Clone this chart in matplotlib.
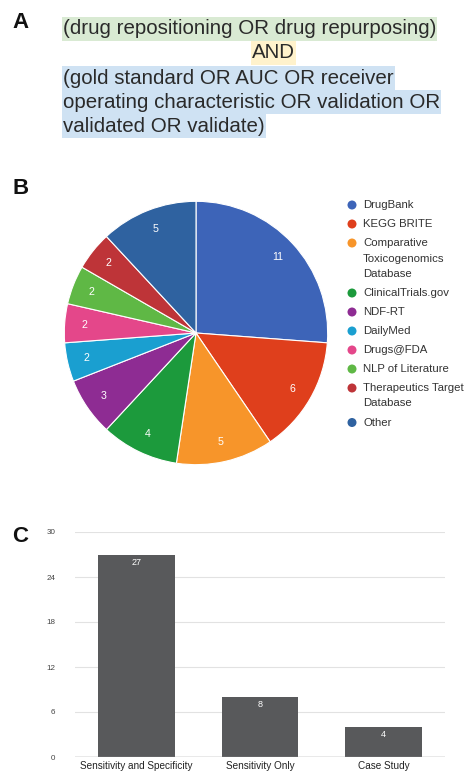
import numpy as np
import matplotlib
matplotlib.use("Agg")
import matplotlib.pyplot as plt
from matplotlib.patches import Rectangle

plt.rcParams['font.family'] = ['Liberation Sans', 'DejaVu Sans']

W, H = 471, 774

# panel A: search query
query_lines = ["(drug repositioning OR drug repurposing)",
               "AND",
               "(gold standard OR AUC OR receiver",
               "operating characteristic OR validation OR",
               "validated OR validate)"]
query_colors = ["#d9ead3", "#fff2cc", "#cfe2f3", "#cfe2f3", "#cfe2f3"]

# panel B: data sources
sources = ["DrugBank", "KEGG BRITE", "Comparative\nToxicogenomics\nDatabase",
           "ClinicalTrials.gov", "NDF-RT", "DailyMed", "Drugs@FDA",
           "NLP of Literature", "Therapeutics Target\nDatabase", "Other"]
source_counts = [11, 6, 5, 4, 3, 2, 2, 2, 2, 5]
source_colors = ["#3d64b8", "#df3f1c", "#f7952a", "#1c9a3c", "#8e2c93",
                 "#1a9fd0", "#e4478a", "#5fb845", "#be3438", "#2f62a0"]

# panel C: validation type
validation = ["Sensitivity and Specificity", "Sensitivity Only", "Case Study"]
validation_counts = [27, 8, 4]
bar_color = "#58595b"


def px_axes(fig, left, top, right, bottom):
    # axes from pixel box (top-left origin)
    return fig.add_axes([left / W, 1 - bottom / H, (right - left) / W, (bottom - top) / H])


fig = plt.figure(figsize=(W / 100, H / 100), dpi=100)
fig.patch.set_facecolor("white")

# overlay in pixel coordinates for text panel, letters and legend
ov = fig.add_axes([0, 0, 1, 1])
ov.set_xlim(0, W)
ov.set_ylim(H, 0)
ov.axis("off")

for letter, y in zip("ABC", [23, 189, 537]):
    ov.text(12, y, letter, fontsize=16, fontweight="bold", va="center", ha="left", color="#111111")

# query text with highlight bands
line_y = [29, 53, 78, 102, 126]
texts = []
for i, (s, y) in enumerate(zip(query_lines, line_y)):
    if s == "AND":
        t = ov.text(273, y, s, fontsize=14.8, ha="center", va="center", color="#2a2a2a", zorder=3)
    else:
        t = ov.text(63, y, s, fontsize=14.8, ha="left", va="center", color="#2a2a2a", zorder=3)
    texts.append(t)

fig.canvas.draw()
r = fig.canvas.get_renderer()
for t, y, c in zip(texts, line_y, query_colors):
    bb = t.get_window_extent(r)
    ov.add_patch(Rectangle((bb.x0 - 1, y - 12.2), bb.width + 2, 24.4,
                           facecolor=c, edgecolor="none", zorder=1))

# pie
axp = px_axes(fig, 63, 200, 329, 466)
total = sum(source_counts)
wedges, _, autotexts = axp.pie(
    source_counts, colors=source_colors, startangle=90, counterclock=False,
    radius=1, autopct=lambda p: f"{round(p * total / 100)}", pctdistance=0.85,
    wedgeprops=dict(edgecolor="white", linewidth=0.8))
for at in autotexts:
    at.set_color("white")
    at.set_fontsize(7.7)
axp.set_xlim(-1.01, 1.01)
axp.set_ylim(-1.01, 1.01)
axp.set_aspect("equal")

# legend drawn by hand so markers line up with the first text line
y = 205
for name, col in zip(sources, source_colors):
    ov.scatter([352], [y], s=42, color=col, edgecolors="none", zorder=3)
    parts = name.split("\n")
    for k, part in enumerate(parts):
        ov.text(363, y + k * 15.5, part, fontsize=8.2, va="center", ha="left", color="#333333")
    y += 19 + 15.5 * (len(parts) - 1)

# bar chart
axb = px_axes(fig, 75, 532, 445, 757)
xs = np.arange(len(validation))
bars = axb.bar(xs, validation_counts, width=0.62, color=bar_color, zorder=2)
for b, v in zip(bars, validation_counts):
    axb.annotate(str(v), (b.get_x() + b.get_width() / 2, v), xytext=(0, -2.5),
                 textcoords="offset points", ha="center", va="top",
                 color="white", fontsize=6.5, zorder=3)
axb.set_xlim(-0.5, 2.5)
axb.set_ylim(0, 30)
axb.set_yticks(np.arange(0, 31, 6))
axb.set_xticks(xs)
axb.set_xticklabels(validation, fontsize=7.2, color="#222222")
axb.tick_params(axis="y", length=0, pad=14, labelsize=5.8, labelcolor="#444444")
axb.tick_params(axis="x", length=0, pad=3)
axb.grid(axis="y", color="#e2e2e2", linewidth=0.8, zorder=0)
for sp in axb.spines.values():
    sp.set_visible(False)
axb.axhline(0, color="#9a9a9a", linewidth=1.0, zorder=3)

fig.savefig("out.png", dpi=100, facecolor="white")
